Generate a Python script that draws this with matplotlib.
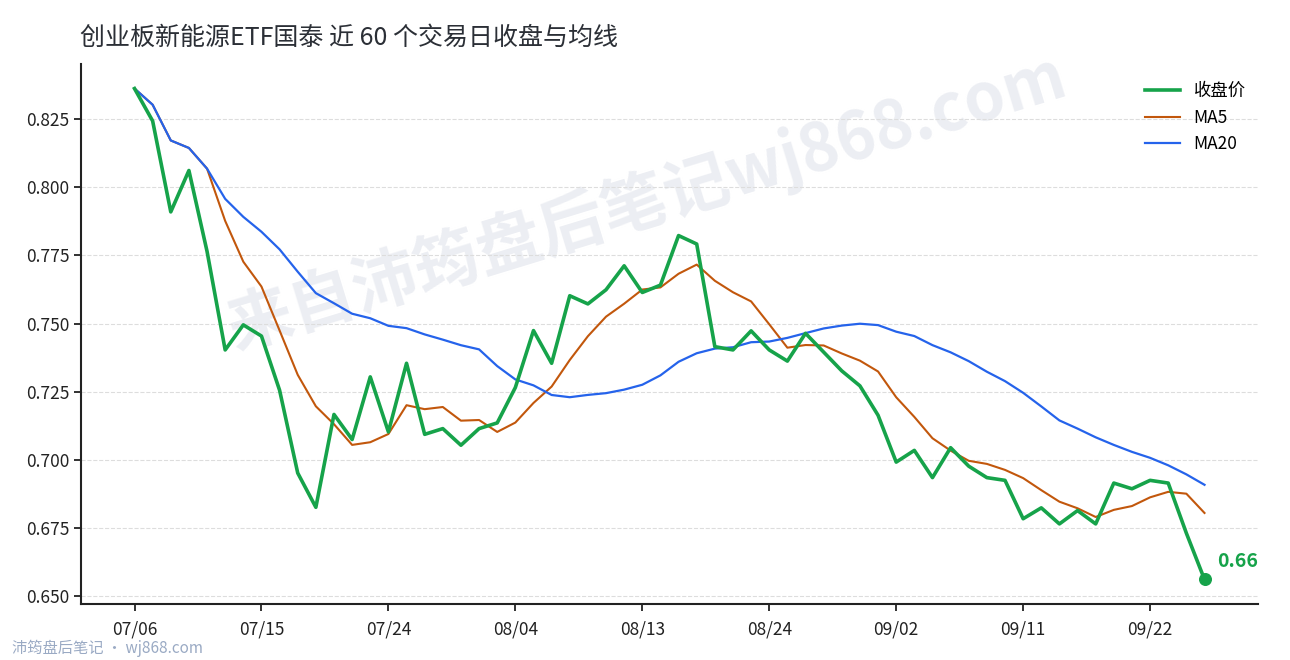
import numpy as np
import pandas as pd
import matplotlib
matplotlib.use("Agg")
import matplotlib.pyplot as plt

plt.rcParams["font.family"] = ["Noto Sans CJK SC", "DejaVu Sans"]
plt.rcParams["axes.unicode_minus"] = False

# 近 60 个交易日收盘价
close = [
    0.8363, 0.8244, 0.7910, 0.8062, 0.7765, 0.7403, 0.7495, 0.7454, 0.7255, 0.6951,
    0.6825, 0.7166, 0.7074, 0.7304, 0.7102, 0.7354, 0.7093, 0.7114, 0.7053, 0.7114,
    0.7135, 0.7265, 0.7474, 0.7354, 0.7602, 0.7572, 0.7624, 0.7712, 0.7614, 0.7641,
    0.7823, 0.7792, 0.7415, 0.7403, 0.7473, 0.7403, 0.7362, 0.7464, 0.7395, 0.7326,
    0.7271, 0.7163, 0.6991, 0.7034, 0.6934, 0.7044, 0.6976, 0.6934, 0.6924, 0.6783,
    0.6823, 0.6764, 0.6813, 0.6764, 0.6914, 0.6893, 0.6924, 0.6914, 0.6730, 0.6560,
]
tick_labels = ["07/06", "07/15", "07/24", "08/04", "08/13", "08/24", "09/02", "09/11", "09/22"]
title = "创业板新能源ETF国泰 近 60 个交易日收盘与均线"
watermark = "来自沛筠盘后笔记wj868.com"
footer = "沛筠盘后笔记 · wj868.com"

s = pd.Series(close)
ma5 = s.rolling(5, min_periods=1).mean()
ma20 = s.rolling(20, min_periods=1).mean()
x = np.arange(len(close))

fig = plt.figure(figsize=(12.9, 6.6), dpi=100)
ax = fig.add_axes([81 / 1290, 56 / 660, (1258 - 81) / 1290, (604 - 64) / 660])

# 水印
ax.text(0.481, 0.745, watermark, transform=ax.transAxes, rotation=17,
        ha="center", va="center", fontsize=47, fontweight="bold",
        color="#eceef3", zorder=0)

ax.plot(x, close, color="#16a34a", linewidth=2.6, label="收盘价", zorder=4)
ax.plot(x, ma5, color="#c2570c", linewidth=1.5, label="MA5", zorder=3)
ax.plot(x, ma20, color="#2563eb", linewidth=1.6, label="MA20", zorder=3)

# 最新收盘
ax.scatter([x[-1]], [close[-1]], s=70, color="#16a34a", zorder=5)
ax.annotate(f"{close[-1]:.2f}", (x[-1], close[-1]), xytext=(9, 6),
            textcoords="offset points", color="#16a34a", fontsize=14,
            fontweight="bold", ha="left", va="bottom")

ax.margins(x=0.05, y=0.05)
ax.set_yticks(np.arange(0.650, 0.8251, 0.025))
ax.yaxis.set_major_formatter(matplotlib.ticker.FormatStrFormatter("%.3f"))
ax.set_xticks(x[::7])
ax.set_xticklabels(tick_labels)
ax.tick_params(axis="both", labelsize=12.5, length=5, width=1.3, colors="#222222")
ax.tick_params(axis="x", pad=7)

ax.grid(axis="y", linestyle="--", linewidth=0.8, color="#dddddd")
ax.set_axisbelow(True)
for side in ["top", "right"]:
    ax.spines[side].set_visible(False)
for side in ["left", "bottom"]:
    ax.spines[side].set_linewidth(1.5)
    ax.spines[side].set_color("#222222")

ax.legend(loc="upper right", bbox_to_anchor=(1.0, 0.989), frameon=False,
          fontsize=12.5, handlelength=2.0, borderaxespad=0.3, labelspacing=0.5)

fig.text(80 / 1290, 1 - 38 / 660, title, fontsize=18, color="#2b2f36",
         ha="left", va="center")
fig.text(12 / 1290, 1 - 648 / 660, footer, fontsize=11, color="#9aaac4",
         ha="left", va="center")

fig.savefig("out.png", dpi=100)
